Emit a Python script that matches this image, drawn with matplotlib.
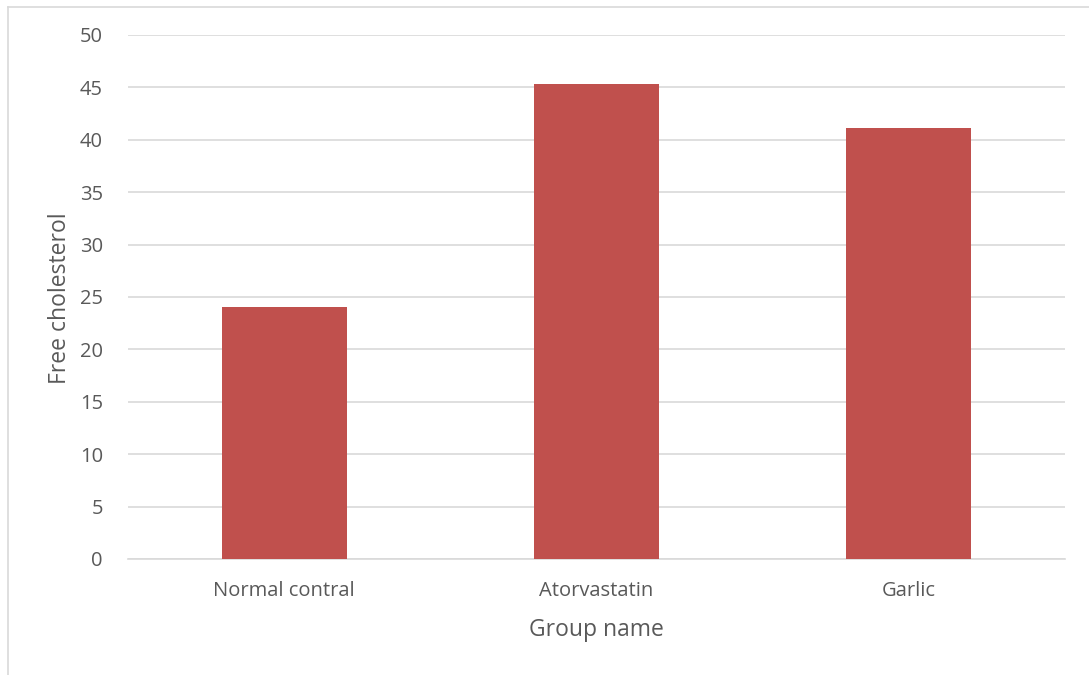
import matplotlib.pyplot as plt
from matplotlib.lines import Line2D

groups = ["Normal contral", "Atorvastatin", "Garlic"]
free_chol = [24.0, 45.3, 41.1]
yticks = [0, 5, 10, 15, 20, 25, 30, 35, 40, 45, 50]

plt.rcParams['font.family'] = ['Open Sans', 'DejaVu Sans']

W, H = 1089, 675
fig = plt.figure(figsize=(W / 100, H / 100), dpi=100)
ax = fig.add_axes([128 / W, 1 - 559 / H, (1065 - 128) / W, (559 - 35) / H])

x = range(len(groups))
ax.bar(x, free_chol, 0.4, color="#C0504D", zorder=3)
ax.set_xlim(-0.5, len(groups) - 0.5)
ax.set_ylim(0, 50)
ax.set_yticks(yticks)
ax.set_xticks(list(x))
ax.set_xticklabels(groups)
ax.grid(axis="y", color="#D9D9D9", linewidth=1.2, zorder=0)
for s in ["top", "right", "left"]:
    ax.spines[s].set_visible(False)
ax.spines["bottom"].set_color("#D9D9D9")
ax.spines["bottom"].set_linewidth(1.2)
ax.tick_params(axis="both", length=0, labelsize=14.5, colors="#595959")
ax.tick_params(axis="y", pad=18)
ax.tick_params(axis="x", pad=15.5)

fig.text(60 / W, 1 - 298 / H, "Free cholesterol", rotation=90, ha="center", va="center",
         fontsize=16.5, color="#595959")
fig.text(596 / W, 1 - 630 / H, "Group name", ha="center", va="center",
         fontsize=16.5, color="#595959")

# chart area border (left and top visible)
fig.add_artist(Line2D([7.5 / W, 7.5 / W], [0, 1 - 6.5 / H], color="#D9D9D9", linewidth=1.2))
fig.add_artist(Line2D([7.5 / W, 1], [1 - 6.5 / H, 1 - 6.5 / H], color="#D9D9D9", linewidth=1.2))

fig.savefig("out.png", dpi=100)
